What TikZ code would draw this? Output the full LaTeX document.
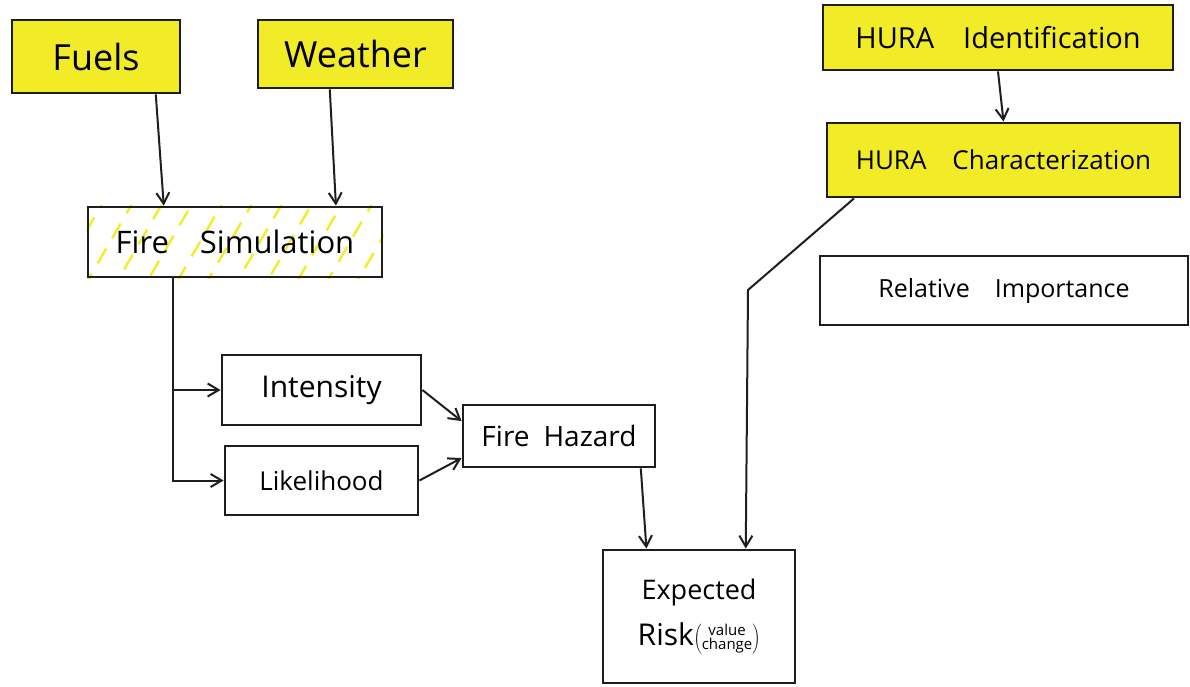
\documentclass[tikz,border=0pt]{standalone}
\usepackage{fontspec}
\setmainfont{Open Sans}
\usetikzlibrary{calc,arrows.meta,backgrounds}
\definecolor{hl}{RGB}{242,236,40}
\definecolor{ink}{RGB}{30,30,30}
\begin{document}
\begin{tikzpicture}[x=1pt,y=-1pt,
  box/.style={draw=ink,line width=2.8pt,inner sep=0pt,align=center},
  hbox/.style={box,fill=hl},
  fs/.style={font=\fontsize{#1}{#1}\selectfont},
  conn/.style={draw=ink,line width=2pt,-{Straight Barb[length=11pt,width=13pt,line width=2pt]}}
]
\useasboundingbox (0,0) rectangle (1190,686);

\node[hbox,fs=36,minimum width=168,minimum height=73] (fuels) at (96,56.5) {Fuels};
\node[hbox,fs=36,minimum width=195,minimum height=68] (weather) at (355.5,54) {Weather};
\node[box,fs=31,minimum width=294,minimum height=70] (fs) at (235,242) {Fire\quad Simulation};
\node[box,fs=30,minimum width=199,minimum height=70] (int) at (321.5,390) {Intensity};
\node[box,fs=26,minimum width=193,minimum height=69] (lik) at (321.5,480.5) {Likelihood};
\node[box,fs=28,minimum width=192,minimum height=62] (fhz) at (559,436) {Fire\enspace Hazard};
\node[box,minimum width=192,minimum height=133] (risk) at (699,616.5)
  {\fontsize{27}{30}\selectfont Expected\\[16pt]\fontsize{30}{30}\selectfont Risk$\left(\vcenter{\hbox{\fontsize{15}{15}\selectfont\begin{tabular}{@{}c@{}}value\\[-2pt]change\end{tabular}}}\right)$};
\node[hbox,fs=29,minimum width=350,minimum height=65] (hid) at (998,37.5) {HURA\quad Identification};
\node[hbox,fs=26,minimum width=353,minimum height=74] (hch) at (1003.5,160) {HURA\quad Characterization};
\node[box,fs=25,minimum width=368,minimum height=69] (rel) at (1004,290.5) {Relative\quad Importance};

% hatching of Fire Simulation
\begin{scope}[on background layer]
  \clip (fs.south west) rectangle (fs.north east);
  \foreach \i in {0,...,11}{
    \draw[hl,line width=2.4pt,dash pattern=on 17pt off 12pt,dash phase=\i*7pt]
      ($(fs.south west)+(\i*30-30,4)$) -- ++(52,-90);
  }
\end{scope}

% connectors
\draw[conn] ($(fuels.south west)!0.85!(fuels.south east)$) -- ($(fs.north west)!0.26!(fs.north east)$);
\draw[conn] ($(weather.south west)!0.37!(weather.south east)$) -- ($(fs.north west)!0.84!(fs.north east)$);
\coordinate (fsb) at ($(fs.south west)!0.29!(fs.south east)$);
\draw[conn] (fsb) |- (int.west);
\draw[conn] (fsb) |- (lik.west);
\draw[conn] (int.east) -- ($(fhz.north west)!0.27!(fhz.south west)$);
\draw[conn] (lik.east) -- ($(fhz.north west)!0.84!(fhz.south west)$);
\draw[conn] ($(fhz.south west)!0.92!(fhz.south east)$) -- ($(risk.north west)!0.23!(risk.north east)$);
\draw[conn] (hid.south) -- (hch.north);
\coordinate (bend) at (748,290);
\draw[conn] ($(hch.south west)!0.08!(hch.south east)$) -- (bend) -- ($(risk.north west)!0.74!(risk.north east)$);
\end{tikzpicture}
\end{document}
